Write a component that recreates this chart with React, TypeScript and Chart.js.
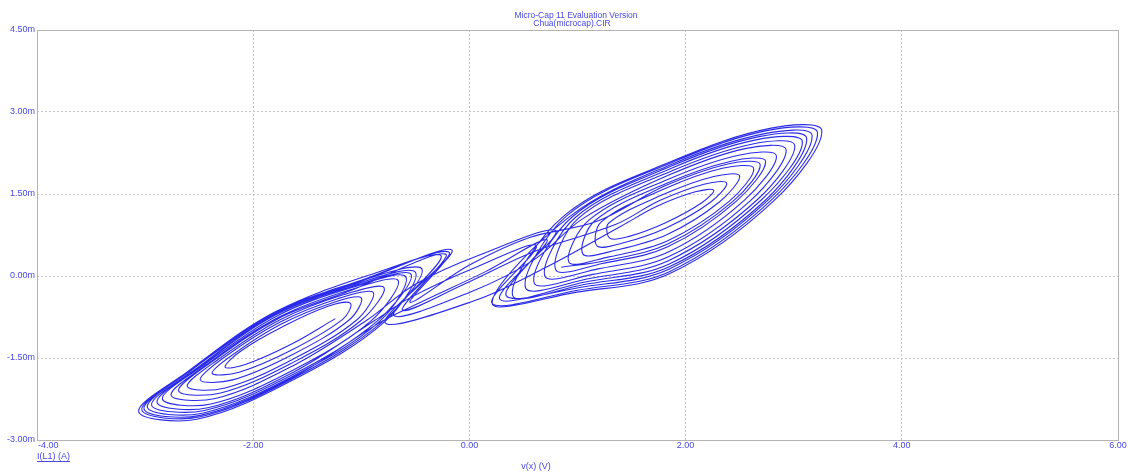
import { useEffect, useRef } from "react";
import { Chart, registerables } from "chart.js";

Chart.register(...registerables);

const TITLE_LINES = ["Micro-Cap 11 Evaluation Version", "Chua(microcap).CIR"];
const X_LABEL = "v(x) (V)";
const Y_LABEL = "I(L1) (A)";
const X_TICKS = [-4, -2, 0, 2, 4, 6];
const Y_MIN = -3;
const Y_MAX = 4.5;
const Y_STEP = 1.5;

// Left scroll loops: v(x) in V, I(L1) in mA
const L00 = [[-1.10,-0.50],[-1.30,-0.55],[-1.72,-0.92],[-2.12,-1.38],[-2.26,-1.67],[-2.06,-1.61],[-1.64,-1.24],[-1.24,-0.78]];
const L15 = [[-1.00,-0.40],[-1.25,-0.48],[-1.74,-0.88],[-2.19,-1.44],[-2.38,-1.78],[-2.13,-1.76],[-1.63,-1.34],[-1.17,-0.79]];
const L30 = [[-0.89,-0.30],[-1.21,-0.41],[-1.75,-0.84],[-2.27,-1.49],[-2.49,-1.90],[-2.19,-1.90],[-1.63,-1.43],[-1.11,-0.80]];
const L45 = [[-0.79,-0.21],[-1.16,-0.34],[-1.76,-0.81],[-2.34,-1.55],[-2.61,-2.02],[-2.26,-2.05],[-1.63,-1.52],[-1.04,-0.80]];
const L55 = [[-0.73,-0.14],[-1.13,-0.29],[-1.77,-0.78],[-2.39,-1.58],[-2.69,-2.10],[-2.30,-2.14],[-1.63,-1.58],[-1.00,-0.81]];
const L65 = [[-0.66,-0.08],[-1.10,-0.25],[-1.77,-0.76],[-2.43,-1.62],[-2.76,-2.18],[-2.35,-2.24],[-1.63,-1.64],[-0.95,-0.81]];
const L75 = [[-0.59,-0.01],[-1.07,-0.20],[-1.78,-0.73],[-2.48,-1.66],[-2.84,-2.25],[-2.39,-2.34],[-1.62,-1.71],[-0.91,-0.82]];
const L82 = [[-0.54,0.03],[-1.05,-0.17],[-1.79,-0.71],[-2.51,-1.68],[-2.89,-2.31],[-2.42,-2.41],[-1.62,-1.75],[-0.88,-0.82]];
const L88 = [[-0.50,0.07],[-1.04,-0.14],[-1.79,-0.70],[-2.54,-1.71],[-2.94,-2.36],[-2.45,-2.46],[-1.62,-1.79],[-0.85,-0.82]];
const L93 = [[-0.47,0.11],[-1.02,-0.11],[-1.80,-0.69],[-2.57,-1.72],[-2.98,-2.40],[-2.47,-2.51],[-1.62,-1.82],[-0.83,-0.83]];
const L97 = [[-0.44,0.13],[-1.01,-0.09],[-1.80,-0.68],[-2.59,-1.74],[-3.01,-2.43],[-2.49,-2.55],[-1.62,-1.84],[-0.81,-0.83]];
const L100 = [[-0.42,0.15],[-1.00,-0.08],[-1.80,-0.67],[-2.60,-1.75],[-3.03,-2.45],[-2.50,-2.58],[-1.62,-1.86],[-0.80,-0.83]];
const L104 = [[-0.16,0.47],[-0.80,0.10],[-1.80,-0.66],[-2.62,-1.77],[-3.06,-2.48],[-2.52,-2.62],[-1.62,-1.89],[-0.78,-0.83]];

// Right scroll loops
const R00 = [[1.30,0.69],[1.41,0.92],[1.74,1.28],[2.09,1.54],[2.26,1.57],[2.15,1.34],[1.82,0.98],[1.47,0.72]];
const R12 = [[1.18,0.55],[1.35,0.94],[1.76,1.38],[2.17,1.68],[2.38,1.70],[2.23,1.35],[1.82,0.88],[1.41,0.60]];
const R25 = [[1.05,0.40],[1.29,0.97],[1.78,1.48],[2.26,1.82],[2.50,1.83],[2.31,1.35],[1.83,0.76],[1.35,0.47]];
const R38 = [[0.92,0.25],[1.22,0.99],[1.80,1.59],[2.34,1.97],[2.63,1.97],[2.40,1.36],[1.83,0.64],[1.29,0.35]];
const R45 = [[0.85,0.16],[1.18,1.00],[1.81,1.65],[2.39,2.05],[2.69,2.04],[2.44,1.37],[1.83,0.58],[1.26,0.28]];
const R50 = [[0.80,0.11],[1.16,1.01],[1.82,1.69],[2.42,2.10],[2.74,2.10],[2.47,1.37],[1.83,0.53],[1.23,0.23]];
const R60 = [[0.70,-0.01],[1.11,1.03],[1.84,1.77],[2.49,2.21],[2.84,2.20],[2.54,1.38],[1.84,0.44],[1.19,0.13]];
const R70 = [[0.60,-0.13],[1.05,1.05],[1.85,1.85],[2.55,2.33],[2.93,2.31],[2.60,1.38],[1.84,0.35],[1.14,0.03]];
const R78 = [[0.52,-0.22],[1.01,1.06],[1.87,1.92],[2.61,2.41],[3.01,2.39],[2.66,1.39],[1.84,0.28],[1.10,-0.05]];
const R85 = [[0.45,-0.30],[0.98,1.07],[1.88,1.98],[2.65,2.49],[3.08,2.46],[2.70,1.39],[1.85,0.22],[1.07,-0.11]];
const R90 = [[0.40,-0.36],[0.95,1.08],[1.88,2.02],[2.68,2.55],[3.12,2.52],[2.74,1.39],[1.85,0.17],[1.05,-0.16]];
const R95 = [[0.35,-0.42],[0.93,1.09],[1.89,2.06],[2.72,2.60],[3.17,2.57],[2.77,1.40],[1.85,0.13],[1.02,-0.21]];
const R100 = [[0.30,-0.48],[0.90,1.10],[1.90,2.10],[2.75,2.66],[3.22,2.62],[2.80,1.40],[1.85,0.08],[1.00,-0.26]];
const R104 = [[0.21,-0.50],[0.88,1.11],[1.91,2.13],[2.78,2.70],[3.26,2.66],[2.83,1.40],[1.85,0.04],[0.98,-0.30]];

// Middle region: cusp tips and turning points of the "Z" crossings
const SPIKE_L = [[-0.22,0.40],[-0.16,0.47],[-0.26,0.36],[-0.19,0.44]];
const TURN_L = [[-0.62,-0.62],[-0.78,-0.85],[-0.70,-0.72],[-0.55,-0.48]];
const SPIKE_R = [[0.28,-0.42],[0.21,-0.50],[0.34,-0.36]];
const TURN_R = [[0.80,0.82],[0.62,0.55],[0.72,0.66]];

// Band crossings between the scrolls
const BAND_1 = [[-0.05,-0.15],[0.60,0.45]];
const BAND_2 = [[0.10,0.39],[-0.50,-0.15]];
const BAND_3 = [[0.05,-0.45],[0.70,0.15]];
const BAND_4 = [[0.05,0.15],[-0.55,-0.40]];
const BAND_5 = [[0.00,-0.30],[0.60,0.30]];
const BAND_6 = [[0.15,0.08],[-0.45,-0.48]];
const BAND_7 = [[0.00,0.20],[0.55,0.70]];

type Pt = number[];

function fwd(ring: Pt[], start: number, n: number): Pt[] {
  const out: Pt[] = [];
  for (let i = 0; i < n; i++) out.push(ring[(start + i) % ring.length]);
  return out;
}
function rev(ring: Pt[], start: number, n: number): Pt[] {
  const out: Pt[] = [];
  for (let i = 0; i < n; i++) out.push(ring[(start - i + ring.length * 4) % ring.length]);
  return out;
}

function buildPath(): Pt[] {
  return [
    ...rev(L00, 7, 8), ...rev(L15, 7, 8), ...rev(L30, 7, 8), ...rev(L45, 7, 8), ...rev(L55, 7, 7),
    SPIKE_L[0], TURN_L[0], ...BAND_1,
    ...fwd(R12, 1, 8), ...fwd(R38, 1, 8), ...fwd(R60, 1, 8), ...fwd(R85, 1, 7),
    SPIKE_R[0], TURN_R[0], ...BAND_2,
    ...rev(L65, 7, 8), ...rev(L75, 7, 8), ...rev(L93, 7, 7),
    SPIKE_L[1], TURN_L[1], ...BAND_3,
    ...fwd(R00, 1, 8), ...fwd(R25, 1, 8), ...fwd(R50, 1, 8), ...fwd(R78, 1, 8), ...fwd(R100, 1, 7),
    SPIKE_R[1], TURN_R[1], ...BAND_4,
    ...rev(L82, 7, 8), ...rev(L88, 7, 8), ...rev(L104, 7, 7),
    SPIKE_L[2], TURN_L[2], ...BAND_5,
    ...fwd(R70, 1, 8), ...fwd(R90, 1, 8), ...fwd(R104, 1, 8), ...fwd(R95, 1, 7),
    SPIKE_R[2], TURN_R[2], ...BAND_6,
    ...rev(L97, 7, 8), ...rev(L100, 7, 7),
    SPIKE_L[3], TURN_L[3], ...BAND_7,
    ...fwd(R45, 1, 8),
  ];
}

const TEXT_COLOR = "#4848e4";
const FONT_FAMILY = "'Liberation Sans', Arial, sans-serif";

const decorPlugin = {
  id: "decor",
  afterDraw(chart: any) {
    const { ctx, chartArea } = chart;
    const xs = chart.scales.x;
    ctx.save();
    ctx.strokeStyle = "#b4b4b4";
    ctx.lineWidth = 1;
    ctx.setLineDash([]);
    ctx.strokeRect(chartArea.left + 0.5, chartArea.top + 0.5, chartArea.right - chartArea.left, chartArea.bottom - chartArea.top);
    ctx.fillStyle = TEXT_COLOR;
    ctx.font = `9px ${FONT_FAMILY}`;
    ctx.textBaseline = "middle";
    X_TICKS.forEach((v, i) => {
      const px = xs.getPixelForValue(v);
      if (i === 0) {
        ctx.textAlign = "left";
        ctx.fillText(v.toFixed(2), px + 1, chartArea.bottom + 6);
      } else {
        ctx.textAlign = "center";
        ctx.fillText(v.toFixed(2), px, chartArea.bottom + 6);
      }
    });
    ctx.font = `8.5px ${FONT_FAMILY}`;
    ctx.textAlign = "center";
    ctx.fillText(TITLE_LINES[0], 576, 15.5);
    ctx.fillText(TITLE_LINES[1], 572, 23.5);
    ctx.font = `9px ${FONT_FAMILY}`;
    ctx.fillText(X_LABEL, 536, 467);
    ctx.textAlign = "left";
    const yl = chartArea.left;
    ctx.fillText(Y_LABEL, yl, 457);
    const w = ctx.measureText(Y_LABEL).width;
    ctx.strokeStyle = TEXT_COLOR;
    ctx.beginPath();
    ctx.moveTo(yl, 461.5);
    ctx.lineTo(yl + w, 461.5);
    ctx.stroke();
    ctx.restore();
  },
};

export default function App() {
  const ref = useRef<HTMLCanvasElement>(null);
  useEffect(() => {
    const path = buildPath();
    const chart = new Chart(ref.current as HTMLCanvasElement, {
      type: "scatter",
      data: {
        datasets: [
          {
            data: path.map(([x, y]) => ({ x, y })),
            showLine: true,
            borderColor: "rgba(20,20,232,0.9)",
            backgroundColor: "rgba(20,20,232,0.9)",
            borderWidth: 1.1,
            pointRadius: 0,
            tension: 0.35,
            fill: false,
          },
        ],
      },
      options: {
        animation: false,
        responsive: true,
        maintainAspectRatio: false,
        layout: { padding: { top: 30, right: 10, left: 0, bottom: 0 } },
        plugins: { legend: { display: false }, tooltip: { enabled: false }, title: { display: false } },
        scales: {
          x: {
            type: "linear",
            min: -4,
            max: 6,
            afterFit: (s: any) => { s.height = 32; },
            ticks: { display: false, stepSize: 2 },
            grid: { color: "#c6c6c6", lineWidth: 1, drawTicks: false },
            border: { display: false, dash: [2, 2] },
          },
          y: {
            type: "linear",
            min: Y_MIN,
            max: Y_MAX,
            afterFit: (s: any) => { s.width = 37; },
            ticks: {
              stepSize: Y_STEP,
              padding: 2,
              color: TEXT_COLOR,
              font: { family: FONT_FAMILY, size: 9 },
              callback: (v: any) => Number(v).toFixed(2) + "m",
            },
            grid: { color: "#c6c6c6", lineWidth: 1, drawTicks: false },
            border: { display: false, dash: [2, 2] },
          },
        },
      } as any,
      plugins: [decorPlugin],
    });
    return () => chart.destroy();
  }, []);
  return (
    <div style={{ position: "fixed", left: 0, top: 0, width: 1128, height: 472, background: "#fff" }}>
      <canvas ref={ref} />
    </div>
  );
}
